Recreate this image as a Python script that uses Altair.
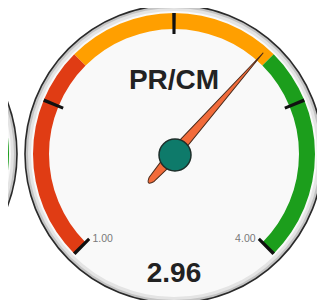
import math
import altair as alt
import pandas as pd

# ---- data ----
band_start = [1.0, 2.0, 3.0]
band_end = [2.0, 3.0, 4.0]
band_colors = ["#e03c14", "#ff9f00", "#1c9e1c"]
tick_values = [1.0, 1.75, 2.5, 3.25, 4.0]
label_values = [1.0, 4.0]
label_texts = ["1.00", "4.00"]
label_align = ["left", "right"]
gauge_value = [2.96]
value_text = ["2.96"]
gauge_title = ["PR/CM"]
gauge_min, gauge_max = 1.0, 4.0

# ---- layout ----
W, H = 309, 292
CX, CY = 166, 146
LEFT_CX = -140
R_OUT, R_BAND_OUT, R_BAND_IN = 149, 141, 125

theta_scale = alt.Scale(domain=[gauge_min, gauge_max],
                        range=[-3 * math.pi / 4, 3 * math.pi / 4])
angle_scale = alt.Scale(domain=[gauge_min, gauge_max], range=[-135, 135])

one = pd.DataFrame({"k": [0]})


def disc(cx, r, fill, stroke=None, sw=0.0):
    kw = dict(fill=fill, strokeWidth=sw)
    if stroke:
        kw["stroke"] = stroke
    return alt.Chart(one).mark_arc(**kw).encode(
        x=alt.value(cx), y=alt.value(CY),
        theta=alt.value(0), theta2=alt.value(2 * math.pi),
        radius=alt.value(r),
    )


bands = pd.DataFrame({"start": band_start, "end": band_end, "color": band_colors})


def band_layer(cx, df):
    return alt.Chart(df).mark_arc().encode(
        theta=alt.Theta("start:Q", scale=theta_scale, stack=None),
        theta2="end:Q",
        radius=alt.value(R_BAND_OUT), radius2=alt.value(R_BAND_IN),
        x=alt.value(cx), y=alt.value(CY),
        color=alt.Color("color:N", scale=None),
    )


# left neighbour gauge (only its right edge is visible)
left_parts = [
    disc(LEFT_CX, R_OUT, "#c4c4c4", "#2a2a2a", 1.6),
    disc(LEFT_CX, 146, "#e4e4e4"),
    disc(LEFT_CX, 143, "#f9f9f9"),
    band_layer(LEFT_CX, bands[bands["start"] >= 3.0]),
]

main_parts = [
    disc(CX, R_OUT, "#c4c4c4", "#2a2a2a", 1.6),
    disc(CX, 146, "#e4e4e4"),
    disc(CX, 143, "#f9f9f9"),
    band_layer(CX, bands),
]

ticks = pd.DataFrame({"v": tick_values})
tick_layer = alt.Chart(ticks).transform_calculate(
    a="datum.v - 0.008", b="datum.v + 0.008"
).mark_arc(color="#111111").encode(
    theta=alt.Theta("a:Q", scale=theta_scale, stack=None),
    theta2="b:Q",
    radius=alt.value(R_BAND_OUT), radius2=alt.value(120),
    x=alt.value(CX), y=alt.value(CY),
)

labels = pd.DataFrame({"v": label_values, "t": label_texts, "al": label_align})
lab_base = alt.Chart(labels).transform_calculate(
    ang=f"(-135 + (datum.v - {gauge_min}) * 90) * PI / 180",
    px=f"{CX} + 121 * sin(datum.ang)",
    py=f"{CY} - 121 * cos(datum.ang)",
)
lab_left = lab_base.transform_filter("datum.al == 'left'").mark_text(
    align="left", baseline="middle", dx=4, dy=-1, fontSize=10.5,
    font="Liberation Sans", color="#7a7a7a"
).encode(x=alt.X("px:Q", scale=None), y=alt.Y("py:Q", scale=None), text="t:N")
lab_right = lab_base.transform_filter("datum.al == 'right'").mark_text(
    align="right", baseline="middle", dx=-4, dy=-1, fontSize=10.5,
    font="Liberation Sans", color="#7a7a7a"
).encode(x=alt.X("px:Q", scale=None), y=alt.Y("py:Q", scale=None), text="t:N")

title_layer = alt.Chart(pd.DataFrame({"t": gauge_title})).mark_text(
    fontSize=28, fontWeight="bold", font="Liberation Sans", color="#222222",
    baseline="middle", align="center"
).encode(x=alt.value(CX), y=alt.value(73), text="t:N")

value_layer = alt.Chart(pd.DataFrame({"t": value_text})).mark_text(
    fontSize=28, fontWeight="bold", font="Liberation Sans", color="#222222",
    baseline="middle", align="center"
).encode(x=alt.value(CX), y=alt.value(266), text="t:N")

NEEDLE = ("M0,-1 L0.038,-0.05 L0.036,0.1 L0.024,0.25 Q0,0.32 -0.024,0.25 "
          "L-0.036,0.1 L-0.038,-0.05 Z")
needle_layer = alt.Chart(pd.DataFrame({"v": gauge_value})).mark_point(
    shape=NEEDLE, filled=True, fill="#f26b3a", stroke="#4a2a1a",
    strokeWidth=1, size=(2 * 135) ** 2, opacity=1
).encode(
    x=alt.value(CX), y=alt.value(CY),
    angle=alt.Angle("v:Q", scale=angle_scale),
)

hub_layer = alt.Chart(one).mark_point(
    shape="circle", filled=True, fill="#0e7a6a", stroke="#1e2e2a",
    strokeWidth=1.5, size=32 ** 2, opacity=1
).encode(x=alt.value(CX + 1), y=alt.value(CY + 1))

chart = alt.layer(
    *left_parts, *main_parts, tick_layer, lab_left, lab_right,
    title_layer, value_layer, needle_layer, hub_layer
).properties(
    width=W, height=H, padding=0,
    autosize=alt.AutoSizeParams(type="none"),
    background="white",
).configure_view(stroke=None)

chart.save("out.html", embed_options={"renderer": "svg", "actions": False})
